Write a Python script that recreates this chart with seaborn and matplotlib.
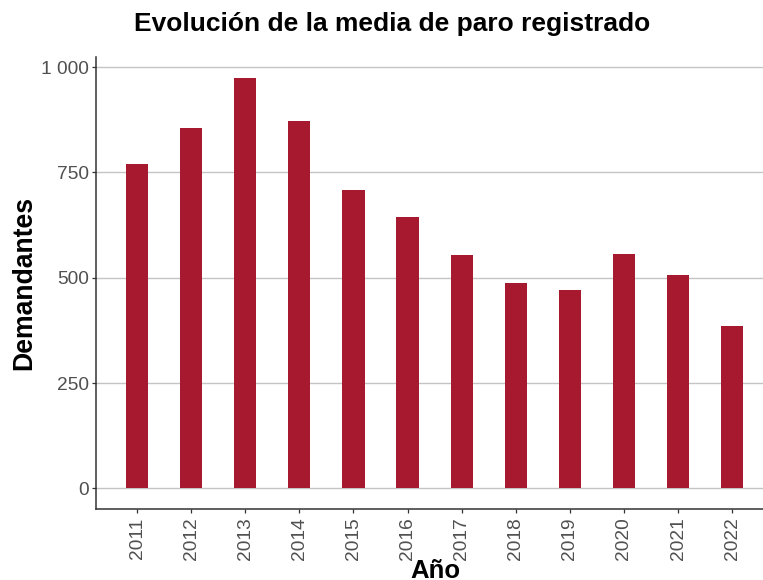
import matplotlib
matplotlib.use("Agg")
import matplotlib.pyplot as plt
import matplotlib.ticker as mticker
import pandas as pd
import seaborn as sns

# datos
anios = ["2011", "2012", "2013", "2014", "2015", "2016",
         "2017", "2018", "2019", "2020", "2021", "2022"]
demandantes = [771, 856, 975, 873, 707, 643, 555, 488, 472, 557, 507, 386]

df = pd.DataFrame({"anio": anios, "demandantes": demandantes})

sns.set_theme(style="white")
plt.rcParams["font.family"] = ["Liberation Sans", "DejaVu Sans"]

fig = plt.figure(figsize=(7.63, 5.80), dpi=100)
ax = fig.add_axes([96 / 763, 1 - 509 / 580, 667 / 763, (509 - 57) / 580])

sns.barplot(data=df, x="anio", y="demandantes", color="#A6192E",
            saturation=1, width=0.41, linewidth=0, ax=ax, zorder=3)

ax.set_xlim(-0.758, 11.57)
ax.set_ylim(-48.75, 1023.75)
ax.set_yticks([0, 250, 500, 750, 1000])
ax.yaxis.set_major_formatter(
    mticker.FuncFormatter(lambda v, p: f"{int(v):,}".replace(",", " ")))

ax.grid(axis="y", color="#c4c4c4", linewidth=1.0, zorder=0)
ax.grid(axis="x", visible=False)
for s in ["top", "right"]:
    ax.spines[s].set_visible(False)
for s in ["left", "bottom"]:
    ax.spines[s].set_color("#333333")
    ax.spines[s].set_linewidth(1.1)

ax.tick_params(axis="both", which="major", length=3, width=0.9,
               color="#333333", labelcolor="#505050", labelsize=13.8, pad=2)
ax.tick_params(axis="x", rotation=90, pad=3)
ax.tick_params(left=True, bottom=True)

ax.set_xlabel("")
ax.set_ylabel("")

fig.text(392 / 763, 1 - 24 / 580, "Evolución de la media de paro registrado",
         ha="center", va="center", fontsize=19, fontweight="bold", color="black")
fig.text(24 / 763, 1 - 283 / 580, "Demandantes", rotation=90,
         ha="center", va="center", fontsize=19.2, fontweight="bold", color="black")
fig.text(435 / 763, 1 - 578 / 580, "Año", ha="center", va="baseline",
         fontsize=18.5, fontweight="bold", color="black")

fig.savefig("out.png", dpi=100)
